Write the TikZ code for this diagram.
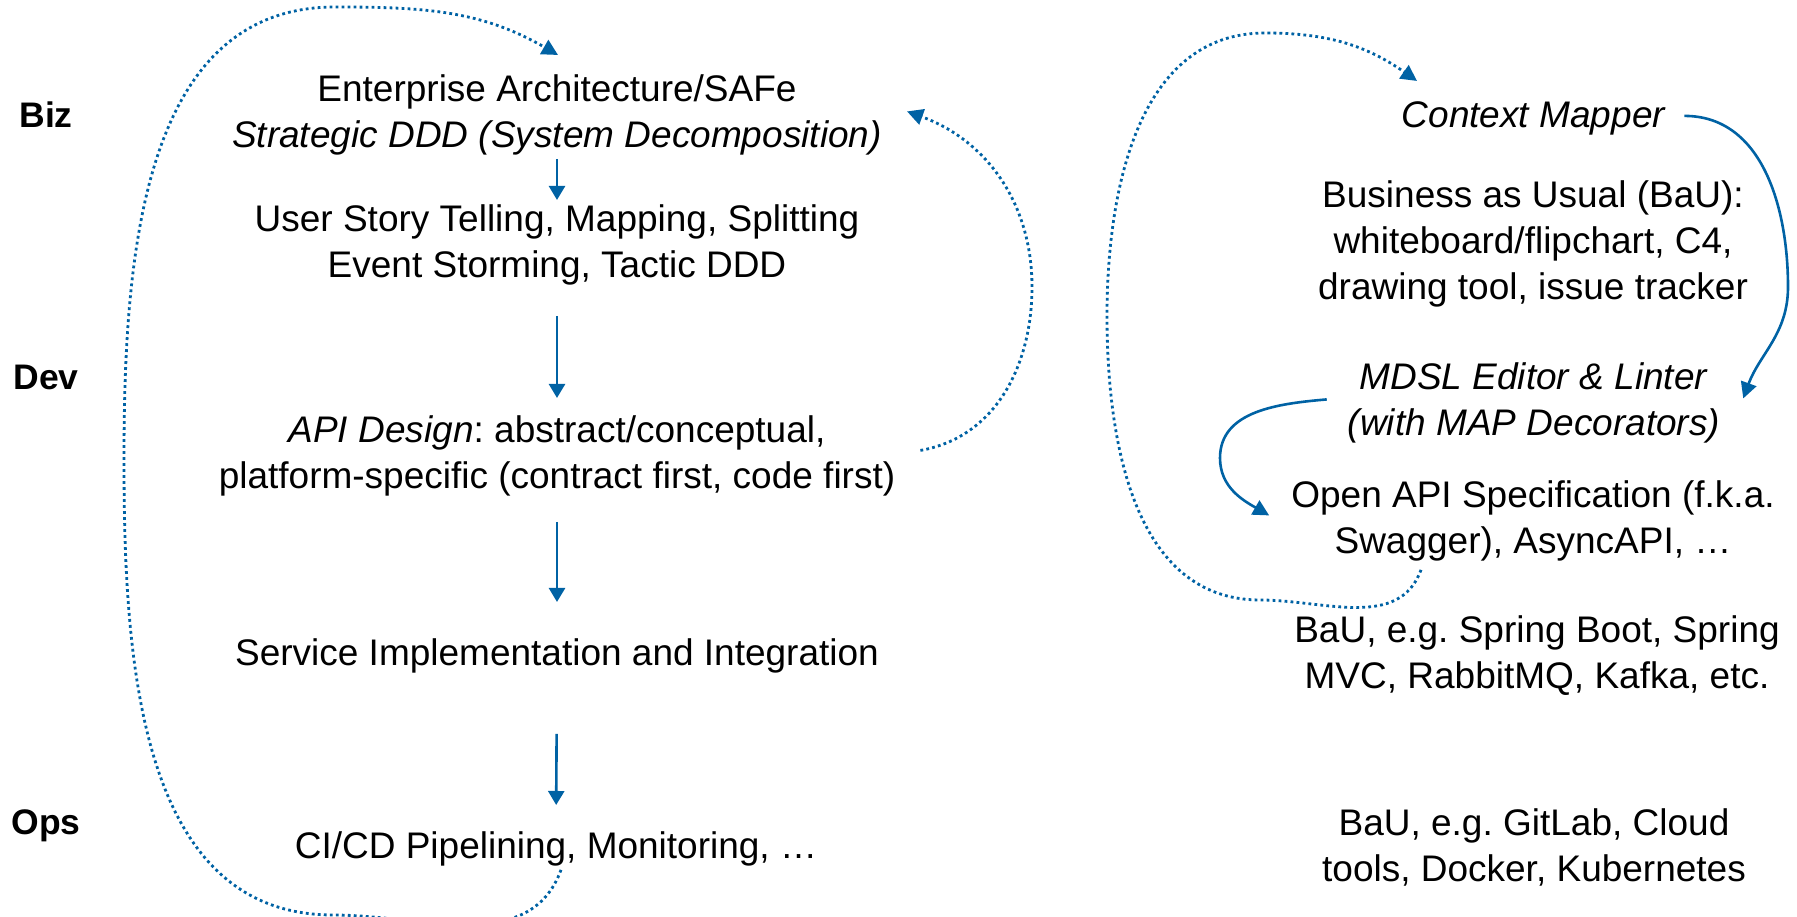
\documentclass[tikz,border=0pt]{standalone}
\usepackage{fontspec}
\setmainfont{Liberation Sans}
\usetikzlibrary{arrows.meta,calc}
\definecolor{flowblue}{RGB}{0,98,164}
\frenchspacing
\begin{document}
\begin{tikzpicture}[x=1pt,y=1pt,
  txt/.style={inner sep=0pt, align=center, font=\fontsize{37}{46}\selectfont, anchor=base},
  lane/.style={inner sep=0pt, font=\fontsize{35.5}{40}\selectfont\bfseries, anchor=base},
  flow/.style={draw=flowblue, line width=2.6pt, -{Triangle[length=14pt,width=16pt]}},
  loopback/.style={draw=flowblue, line width=2.8pt, dash pattern=on 2.8pt off 3.2pt, -{Triangle[length=16pt,width=16pt]}},
  bendarrow/.style={draw=flowblue, line width=2.6pt, -{Triangle[length=16pt,width=16pt]}}]
\useasboundingbox (0,0) rectangle (1797,917);

% lane labels
\node[lane] (biz) at (46,789) {Biz};
\node[lane] (dev) at (46,527) {Dev};
\node[lane] (ops) at (46,82)  {Ops};

% activities (base anchor = baseline of the last line)
\node[txt] (ea)   at (557,769) {Enterprise Architecture/SAFe\\\textit{Strategic DDD (System Decomposition)}};
\node[txt] (us)   at (557,639) {User Story Telling, Mapping, Splitting\\Event Storming, Tactic DDD};
\node[txt] (api)  at (557,428) {\textit{API Design}: abstract/conceptual,\\platform-specific (contract first, code first)};
\node[txt] (impl) at (557,251) {Service Implementation and Integration};
\node[txt] (ci)   at (556,58)  {CI/CD Pipelining, Monitoring, …};

% tools
\node[txt] (cm)   at (1534,789) {\textit{Context Mapper}};
\node[txt] (bau)  at (1533,617) {Business as Usual (BaU):\\whiteboard/flipchart, C4,\\drawing tool, issue tracker};
\node[txt] (mdsl) at (1534,481) {\textit{MDSL Editor \& Linter}\\\textit{(with MAP Decorators)}};
\node[txt] (oas)  at (1533,363) {Open API Specification (f.k.a.\\Swagger), AsyncAPI, …};
\node[txt] (spr)  at (1537,228) {BaU, e.g. Spring Boot, Spring\\MVC, RabbitMQ, Kafka, etc.};
\node[txt] (git)  at (1534,35)  {BaU, e.g. GitLab, Cloud\\tools, Docker, Kubernetes};

% main flow
\draw[flow, shorten <=3pt,  shorten >=5pt]  (ea.south)   -- (us.north);
\draw[flow, shorten <=30pt, shorten >=18pt] (us.south)   -- (api.north);
\draw[flow, shorten <=25pt, shorten >=37pt] (api.south)  -- (impl.north);
\draw[flow, shorten <=60pt, shorten >=27pt] (impl.south) -- (ci.north);

% feedback loops
\draw[loopback] ($(ci.south)+(5,-3)$) to[out=-110,in=0] (333,2)
  to[out=180,in=-90] (124,457) to[out=90,in=180] (335,910)
  to[out=0,in=150] ($(ea.north)+(1,20)$);
\draw[loopback] ($(api.east)+(25,6)$) to[out=10,in=-90] (1032,630)
  to[out=90,in=-20] ($(ea.east)+(25,4)$);
\draw[loopback] ($(oas.south)+(-112,-8)$) to[out=-110,in=0] (1260,317)
  to[out=180,in=-90] (1107,601) to[out=90,in=180] (1265,884)
  to[out=0,in=145] ($(cm.north)+(-117,21)$);

% tool chain
\draw[bendarrow] ($(cm.east)+(18,3)$) to[out=0,in=90] (1788,630)
  to[out=-90,in=70] ($(mdsl.east)+(23,5)$);
\draw[bendarrow] ($(mdsl.west)+(-21,4)$) to[out=185,in=90] (1220,459)
  to[out=-90,in=150] ($(oas.west)+(-22,6)$);
\end{tikzpicture}
\end{document}
